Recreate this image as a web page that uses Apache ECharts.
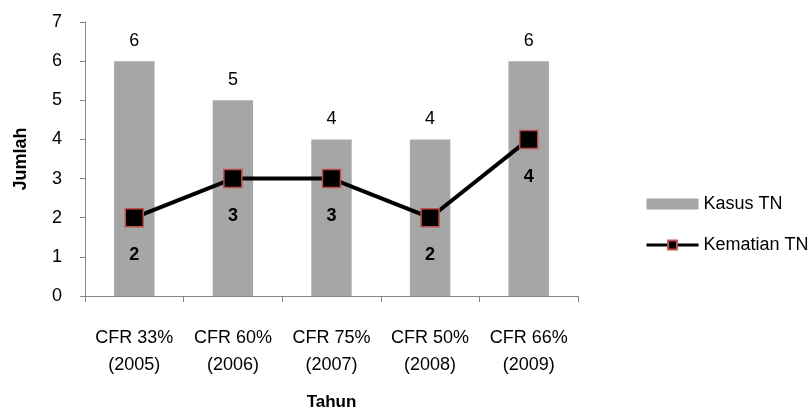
<!DOCTYPE html>
<html>
<head>
<meta charset="utf-8">
<script src="https://cdn.jsdelivr.net/npm/echarts@6/dist/echarts.min.js"></script>
<style>
  html, body { margin: 0; padding: 0; background: #fff; }
  #chart { width: 810px; height: 416px; }
</style>
</head>
<body>
<div id="chart"></div>
<script>
// Categories and values
const categories = ['CFR 33%\n(2005)', 'CFR 60%\n(2006)', 'CFR 75%\n(2007)', 'CFR 50%\n(2008)', 'CFR 66%\n(2009)'];
const kasusTN = [6, 5, 4, 4, 6];
const kematianTN = [2, 3, 3, 2, 4];

const FONT = '"Liberation Sans", Arial, sans-serif';
const AXIS_COLOR = '#868686';

const chart = echarts.init(document.getElementById('chart'), null, { renderer: 'canvas' });
chart.setOption({
  animation: false,
  textStyle: { fontFamily: FONT },
  grid: { left: 85, right: 232, top: 22, bottom: 118 },
  legend: {
    orient: 'vertical',
    left: 640,
    top: 190,
    itemGap: 23,
    itemWidth: 52,
    itemHeight: 11,
    textStyle: { fontFamily: FONT, fontSize: 18, color: '#000' },
    lineStyle: { width: 3 },
    data: [
      { name: 'Kasus TN', icon: 'rect' },
      { name: 'Kematian TN' }
    ]
  },
  xAxis: {
    type: 'category',
    data: categories,
    name: 'Tahun',
    nameLocation: 'middle',
    nameGap: 98,
    nameTextStyle: { fontFamily: FONT, fontSize: 17, fontWeight: 'bold', color: '#000' },
    axisLine: { lineStyle: { color: AXIS_COLOR, width: 1 } },
    axisTick: { show: true, length: 6, lineStyle: { color: AXIS_COLOR } },
    axisLabel: { interval: 0, fontFamily: FONT, fontSize: 18, color: '#000', margin: 29, lineHeight: 27 }
  },
  yAxis: {
    type: 'value',
    min: 0,
    max: 7,
    interval: 1,
    name: 'Jumlah',
    nameLocation: 'middle',
    nameGap: 55,
    nameRotate: 90,
    nameTextStyle: { fontFamily: FONT, fontSize: 18, fontWeight: 'bold', color: '#000' },
    axisLine: { show: true, lineStyle: { color: AXIS_COLOR, width: 1 } },
    axisTick: { show: true, length: 5, lineStyle: { color: AXIS_COLOR } },
    splitLine: { show: false },
    axisLabel: { fontFamily: FONT, fontSize: 18, color: '#000', margin: 23 }
  },
  series: [
    {
      name: 'Kasus TN',
      type: 'bar',
      data: kasusTN,
      barWidth: '41%',
      itemStyle: { color: '#a6a6a6' },
      label: {
        show: true,
        position: 'top',
        distance: 11,
        fontFamily: FONT,
        fontSize: 18,
        color: '#000'
      }
    },
    {
      name: 'Kematian TN',
      type: 'line',
      data: kematianTN,
      symbol: 'rect',
      symbolSize: 18,
      lineStyle: { color: '#000', width: 4 },
      itemStyle: { color: '#000', borderColor: '#c0504d', borderWidth: 1.5 },
      label: {
        show: true,
        position: 'bottom',
        distance: 19,
        fontFamily: FONT,
        fontSize: 18,
        fontWeight: 'bold',
        color: '#000'
      },
      z: 5
    }
  ]
});
</script>
</body>
</html>
